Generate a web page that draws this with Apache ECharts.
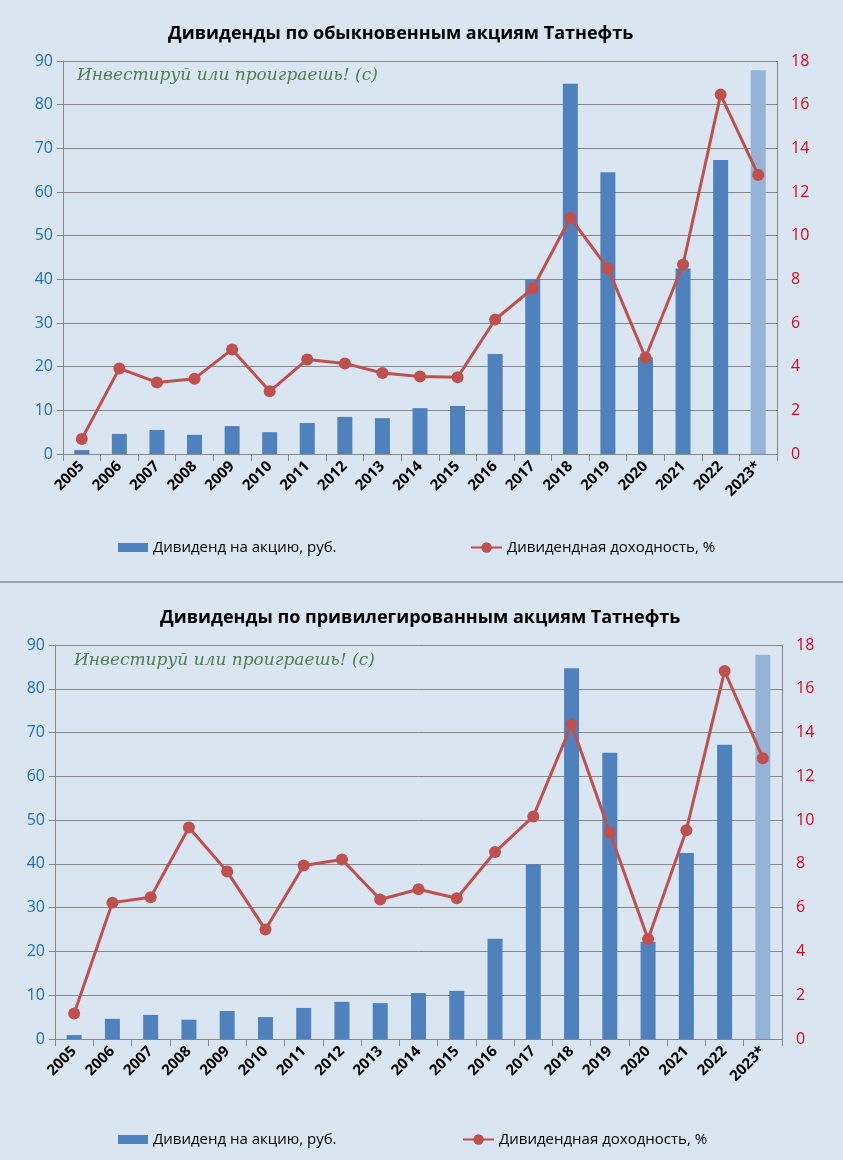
<!DOCTYPE html>
<html>
<head>
<meta charset="utf-8">
<script src="https://cdn.jsdelivr.net/npm/echarts@6/dist/echarts.min.js"></script>
<style>
html,body{margin:0;padding:0;background:#dae5f2;}
#c{width:843px;height:1160px;}
</style>
</head>
<body>
<div id="c"></div>
<script>
const years = ['2005','2006','2007','2008','2009','2010','2011','2012','2013','2014','2015','2016','2017','2018','2019','2020','2021','2022','2023*'];
const ordinaryDividend = [0.9,4.6,5.5,4.4,6.4,5.0,7.1,8.5,8.2,10.5,11.0,22.9,40.0,84.8,64.5,22.1,42.5,67.3,87.9];
const ordinaryYield = [0.69,3.92,3.28,3.45,4.79,2.87,4.33,4.15,3.71,3.55,3.51,6.16,7.58,10.82,8.5,4.42,8.68,16.46,12.78];
const preferredDividend = [0.9,4.6,5.5,4.4,6.4,5.0,7.1,8.5,8.2,10.5,11.0,22.9,39.9,84.7,65.4,22.2,42.5,67.2,87.8];
const preferredYield = [1.16,6.23,6.48,9.66,7.65,5.0,7.93,8.2,6.37,6.84,6.43,8.54,10.17,14.37,9.43,4.57,9.54,16.81,12.83];
const leftTicks = {min:0,max:90,interval:10};
const rightTicks = {min:0,max:18,interval:2};
const titles = ['Дивиденды по обыкновенным акциям Татнефть','Дивиденды по привилегированным акциям Татнефть'];
const barName = 'Дивиденд на акцию, руб.';
const lineName = 'Дивидендная доходность, %';
const slogan = 'Инвестируй или проиграешь! (с)';

const BAR = '#4f81bd', BAR_LIGHT = '#95b3d7', LINE = '#c0504d';
const FONT = '"Open Sans", "Noto Sans", sans-serif';

function barData(arr){
  return arr.map((v,i)=> i===arr.length-1 ? {value:v,itemStyle:{color:BAR_LIGHT}} : v);
}
function xAxis(gi){
  return {type:'category',gridIndex:gi,data:years,boundaryGap:true,
    axisLine:{lineStyle:{color:'#868686',width:1}},
    axisTick:{show:true,alignWithLabel:false,length:7,lineStyle:{color:'#868686'}},
    axisLabel:{rotate:45,color:'#000',fontWeight:'bold',fontSize:15,fontFamily:FONT,margin:10,interval:0}};
}
function yLeft(gi){
  return Object.assign({type:'value',gridIndex:gi,position:'left',
    axisLine:{show:true,lineStyle:{color:'#868686'}},
    axisTick:{show:true,length:6,lineStyle:{color:'#868686'}},
    splitLine:{show:true,lineStyle:{color:'#868686',width:1}},
    axisLabel:{color:'#1f6fb4',fontSize:16,fontFamily:FONT,margin:10}},leftTicks);
}
function yRight(gi){
  return Object.assign({type:'value',gridIndex:gi,position:'right',
    axisLine:{show:true,lineStyle:{color:'#868686'}},
    axisTick:{show:false},
    splitLine:{show:false},
    axisLabel:{color:'#e2001a',fontSize:16,fontFamily:FONT,margin:14}},rightTicks);
}
function series(gi,bars,yld){
  return [
    {name:barName,type:'bar',xAxisIndex:gi,yAxisIndex:gi*2,data:barData(bars),barWidth:15,itemStyle:{color:BAR},z:2},
    {name:lineName,type:'line',xAxisIndex:gi,yAxisIndex:gi*2+1,data:yld,symbol:'circle',symbolSize:12,
      lineStyle:{color:LINE,width:3},itemStyle:{color:LINE},z:3}
  ];
}
const chart = echarts.init(document.getElementById('c'),null,{renderer:'canvas'});
const legendText = {fontFamily:FONT,fontSize:15,color:'#000'};
function barLegend(left,top){
  return {left:left,top:top,itemWidth:30,itemHeight:9,textStyle:legendText,selectedMode:false,
    data:[{name:barName,icon:'rect',itemStyle:{color:BAR}}]};
}
function lineLegend(left,top){
  return {left:left,top:top,itemWidth:31,itemHeight:13,textStyle:legendText,selectedMode:false,
    data:[{name:lineName}]};
}
chart.setOption({
  backgroundColor:'#dae5f2',
  animation:false,
  title:[
    {text:titles[0],left:163,top:20,textStyle:{fontFamily:FONT,fontWeight:'bold',fontSize:18,color:'#000'}},
    {text:titles[1],left:155,top:604,textStyle:{fontFamily:FONT,fontWeight:'bold',fontSize:18,color:'#000'}}
  ],
  legend:[
    barLegend(113,535), lineLegend(465,535),
    barLegend(113,1127), lineLegend(457,1127)
  ],
  grid:[
    {left:63,right:66,top:61,bottom:706},
    {left:55,right:61,top:645,bottom:121}
  ],
  xAxis:[xAxis(0),xAxis(1)],
  yAxis:[yLeft(0),yRight(0),yLeft(1),yRight(1)],
  series:[...series(0,ordinaryDividend,ordinaryYield),...series(1,preferredDividend,preferredYield)],
  graphic:[
    {type:'line',shape:{x1:0,y1:582,x2:843,y2:582},style:{stroke:'#868686',lineWidth:1.5}},
    {type:'text',left:77,top:67,style:{text:slogan,fill:'#4e7f4e',font:'italic 17px "DejaVu Serif", serif'}},
    {type:'text',left:74,top:652,style:{text:slogan,fill:'#4e7f4e',font:'italic 17px "DejaVu Serif", serif'}}
  ]
});
</script>
</body>
</html>
